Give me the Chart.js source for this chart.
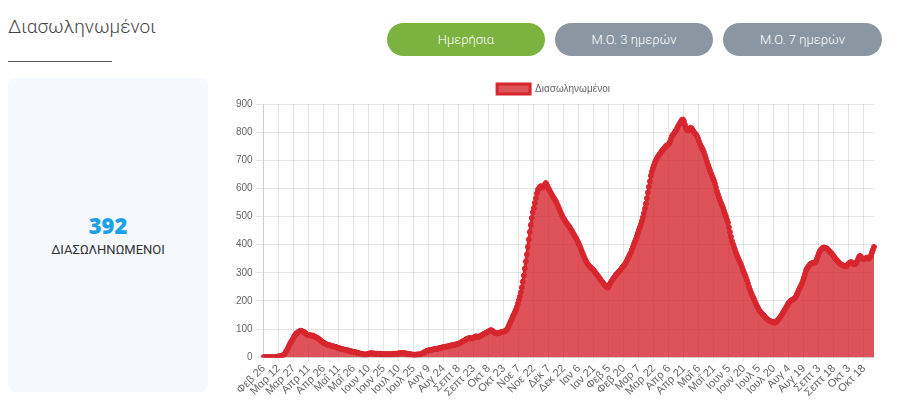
<!DOCTYPE html>
<html>
<head>
<meta charset="utf-8">
<script src="https://cdn.jsdelivr.net/npm/chart.js@4.4.1/dist/chart.umd.min.js"></script>
<style>
  html, body { margin: 0; padding: 0; background: #fff; }
  body { width: 900px; height: 400px; position: relative; overflow: hidden; font-family: Roboto, "Noto Sans", sans-serif; }
  .title { position: absolute; left: 8px; top: 15px; font-size: 19px; font-weight: 300; color: #444; }
  .underline { position: absolute; left: 8px; top: 61px; width: 104px; height: 1px; background: #555; }
  .btn { position: absolute; top: 23px; height: 33px; width: 158px; border-radius: 17px; color: #fff;
         font-size: 13px; font-weight: 300; display: flex; align-items: center; justify-content: center; }
  .green { background: #7cb23f; left: 387px; }
  .gray1 { background: #8a96a2; left: 555px; }
  .gray2 { background: #8a96a2; left: 723px; width: 159px; }
  .card { position: absolute; left: 8px; top: 78px; width: 200px; height: 314px; background: #f5f8fd; border-radius: 8px; }
  .num { position: absolute; left: 0; width: 200px; top: 132px; text-align: center; font-family: "Open Sans", sans-serif;
         font-weight: 800; font-size: 22px; color: #1ea0e6; }
  .lbl { position: absolute; left: 0; width: 200px; top: 164px; text-align: center; font-size: 13px; color: #333; }
  .chartbox { position: absolute; left: 233px; top: 78px; width: 651px; height: 322px; }
</style>
</head>
<body>
<div class="title">Διασωληνωμένοι</div>
<div class="underline"></div>
<div class="btn green">Ημερήσια</div>
<div class="btn gray1">Μ.Ο. 3 ημερών</div>
<div class="btn gray2">Μ.Ο. 7 ημερών</div>
<div class="card">
  <div class="num">392</div>
  <div class="lbl">ΔΙΑΣΩΛΗΝΩΜΕΝΟΙ</div>
</div>
<div class="chartbox"><canvas id="c"></canvas></div>
<script>
const seriesName = 'Διασωληνωμένοι';
const startDate = [2020, 1, 26];
const monthNames = ['Ιαν','Φεβ','Μαρ','Απρ','Μαΐ','Ιουν','Ιουλ','Αυγ','Σεπτ','Οκτ','Νοε','Δεκ'];
const yTicks = [0,100,200,300,400,500,600,700,800,900];
const labelEvery = 15;

const intubated2020 = [
  0,0,0,0,0,0,0,0,0,0,
  0,0,1,1,2,2,3,4,5,6,
  8,12,18,24,30,38,45,52,58,63,
  70,76,82,85,88,90,92,94,93,91,
  90,88,84,80,79,78,78,77,76,77,
  75,73,71,69,68,65,62,59,56,53,
  51,49,47,45,44,43,42,41,40,39,
  38,37,36,35,33,32,31,30,29,28,
  27,26,26,25,24,23,22,21,20,19,
  18,18,17,16,15,14,13,12,12,11,
  10,9,9,10,11,12,13,14,14,13,
  13,12,12,12,12,11,12,12,11,10,
  11,10,10,10,11,10,10,10,11,11,
  12,12,11,12,13,13,14,14,15,14,
  15,14,13,12,12,11,10,10,9,9,
  8,8,9,9,9,10,10,10,12,14,
  16,18,20,22,23,24,25,26,26,27,
  28,29,29,30,30,31,32,33,34,35,
  35,36,37,38,38,39,40,41,42,43,
  43,44,45,46,47,48,50,52,54,56,
  58,60,62,64,66,67,68,67,66,68,
  70,72,74,73,71,72,74,76,78,80,
  82,84,86,88,90,92,94,96,95,92,
  89,86,85,84,85,86,87,88,89,90,
  91,92,94,98,104,112,120,128,136,145,
  152,160,168,178,190,202,215,230,248,268,
  290,315,340,365,392,418,445,470,495,515,
  530,548,565,582,594,600,604,608,604,603,
  608,614,619,612,604,598,590,584,578,571,
  566,560,554,546,538,530,522,513,505,498,
  492,486,480,475,470,466,460,455,449,442
];
const intubated2021 = [
  436,430,424,417,410,402,394,385,376,367,
  358,350,343,336,330,326,322,318,315,312,
  308,303,298,293,289,284,279,274,269,265,
  260,256,252,249,247,252,260,266,272,277,
  282,287,292,296,300,304,307,312,317,322,
  326,330,336,343,351,358,365,372,382,392,
  402,411,419,430,441,452,462,472,484,497,
  512,528,545,565,585,605,625,645,660,672,
  682,692,700,707,713,718,723,728,733,737,
  742,746,750,753,755,758,765,775,785,790,
  795,800,806,812,820,826,832,838,843,845,
  838,826,815,808,806,810,814,816,812,806,
  800,796,792,786,778,768,758,750,744,737,
  728,718,706,695,684,674,664,654,645,637,
  628,617,604,590,578,568,558,548,540,531,
  520,510,500,489,478,462,445,428,413,402,
  392,382,371,362,353,345,337,330,320,310,
  301,292,283,273,262,250,240,230,222,214,
  206,198,189,182,175,168,163,159,155,151,
  147,143,139,136,133,130,128,127,126,125,
  124,122,125,128,132,136,141,146,152,158,
  164,170,176,182,189,194,198,201,203,205,
  207,210,216,224,232,240,248,254,262,272,
  283,295,307,315,320,325,330,332,334,335,
  336,337,340,350,360,370,377,382,386,389,
  390,389,388,386,382,378,374,371,367,362,
  357,352,348,344,340,336,332,330,328,326,
  325,324,324,326,330,334,336,338,336,333,
  331,330,334,340,348,356,360,356,352,349,
  348,350,352,354,352,350,356,362,372,382,
  392
];

const values = intubated2020.concat(intubated2021);
const t0 = Date.UTC(startDate[0], startDate[1], startDate[2]);
const labels = values.map((_, i) => {
  const d = new Date(t0 + i * 86400000);
  return monthNames[d.getUTCMonth()] + ' ' + d.getUTCDate();
});

Chart.defaults.font.family = '"Liberation Sans", Arial, Helvetica, sans-serif';
Chart.defaults.color = '#666';

new Chart(document.getElementById('c'), {
  type: 'line',
  data: {
    labels: labels,
    datasets: [{
      label: seriesName,
      data: values,
      borderColor: '#d8262e',
      backgroundColor: 'rgba(214,40,48,0.8)',
      fill: true,
      borderWidth: 3,
      pointRadius: 2.5,
      pointBackgroundColor: '#d8262e',
      pointBorderColor: '#d8262e',
      pointBorderWidth: 1,
      tension: 0
    }]
  },
  options: {
    responsive: true,
    maintainAspectRatio: false,
    animation: false,
    layout: { padding: { left: 0, right: 10, top: 0, bottom: 0 } },
    plugins: {
      legend: {
        position: 'top',
        labels: { boxWidth: 33, boxHeight: 10, font: { size: 10 }, color: '#666', padding: 6 }
      },
      tooltip: { enabled: false }
    },
    scales: {
      x: {
        grid: { color: 'rgba(0,0,0,0.1)', tickLength: 4 },
        ticks: {
          autoSkip: false,
          minRotation: 45,
          maxRotation: 45,
          padding: 1,
          font: { size: 11 },
          color: '#666',
          callback: function(v, i) { return i % labelEvery === 0 ? labels[i] : null; }
        }
      },
      y: {
        min: yTicks[0],
        max: yTicks[yTicks.length - 1],
        grid: { color: 'rgba(0,0,0,0.1)' },
        ticks: { stepSize: 100, font: { size: 10 }, color: '#666' }
      }
    }
  }
});
</script>
</body>
</html>
